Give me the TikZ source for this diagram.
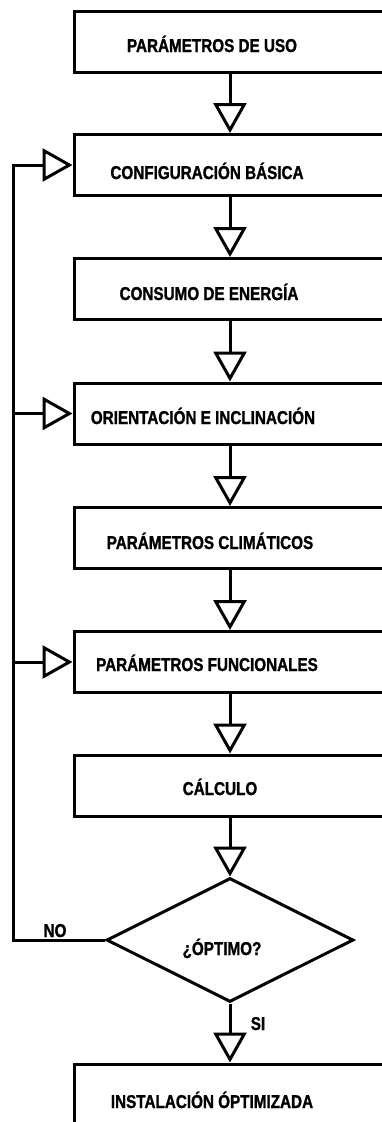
\documentclass[tikz,border=0pt]{standalone}
\usepackage{fontspec}
\setmainfont{Liberation Sans}[FakeStretch=0.82, BoldFeatures={FakeBold=1.2}]
\usetikzlibrary{arrows.meta,shapes.geometric}

\begin{document}
\begin{tikzpicture}[x=1pt,y=-1pt,
        box/.style={draw, line width=3pt, fill=white, minimum width=312pt, minimum height=61pt, inner sep=0pt},
        rombo/.style={draw, diamond, line width=3pt, aspect=2, minimum width=247pt, minimum height=124pt, inner sep=0pt},
        txt/.style={anchor=base, inner sep=0pt, font=\bfseries\fontsize{18.6}{20}\selectfont},
        flow/.style={line width=3pt, -{Triangle[open, length=30pt, width=33pt, line width=3pt]}}]
        \useasboundingbox (0,0) rectangle (382,1122);
        \clip (0,0) rectangle (382,1122);
        % cajas del proceso
        \node[box] (b1) at (230,41.5) {};
        \node[box] (b2) at (230,165) {};
        \node[box] (b3) at (230,289) {};
        \node[box] (b4) at (230,413.5) {};
        \node[box] (b5) at (230,538) {};
        \node[box] (b6) at (230,662) {};
        \node[box] (b7) at (230,785.5) {};
        \node[rombo] (dec) at (230,940) {};
        \node[box, minimum height=70pt] (b8) at (230,1099) {};
        % textos
        \node[txt] (t1) at (212,52) {PARÁMETROS DE USO};
        \node[txt] (t2) at (207,179) {CONFIGURACIÓN BÁSICA};
        \node[txt] (t3) at (209,300) {CONSUMO DE ENERGÍA};
        \node[txt] (t4) at (203,424) {ORIENTACIÓN E INCLINACIÓN};
        \node[txt] (t5) at (210,549) {PARÁMETROS CLIMÁTICOS};
        \node[txt] (t6) at (207,671) {PARÁMETROS FUNCIONALES};
        \node[txt] (t7) at (220,795) {CÁLCULO};
        \node[txt] (t8) at (222,955) {¿ÓPTIMO?};
        \node[txt] (t9) at (212,1108) {INSTALACIÓN ÓPTIMIZADA};
        \node[txt] (no) at (55,937) {NO};
        \node[txt] (si) at (258,1030) {SI};
        % flechas
        \foreach \a/\b in {b1/b2,b2/b3,b3/b4,b4/b5,b5/b6,b6/b7,b7/dec,dec/b8}
            \draw[flow] (\a.south) -- (\b.north);
        % retorno
        \coordinate (spine) at (13,0);
        \draw[flow, line join=miter] (dec.west) -| (spine |- b2.west) -- (b2.west);
        \draw[flow] (spine |- b4.west) -- (b4.west);
        \draw[flow] (spine |- b6.west) -- (b6.west);
    \end{tikzpicture}
\end{document}
